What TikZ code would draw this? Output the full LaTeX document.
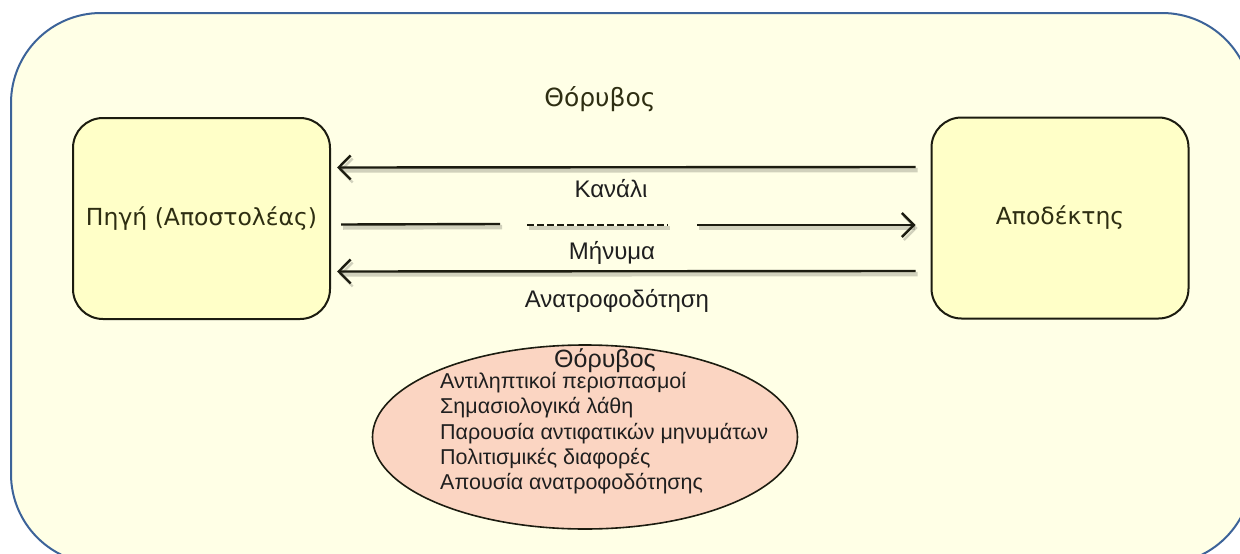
\documentclass[tikz,border=0pt]{standalone}
\usepackage{fontspec}
\setmainfont{Liberation Sans}
\newfontfamily\boxfont{DejaVu Sans}
\usetikzlibrary{arrows.meta,shapes.geometric}
\definecolor{panelfill}{HTML}{FFFFE6}
\definecolor{panelline}{HTML}{3C6399}
\definecolor{boxfill}{HTML}{FFFFC8}
\definecolor{boxtext}{HTML}{2E2E12}
\definecolor{noisefill}{HTML}{FBD5C2}
\definecolor{inkline}{HTML}{1C1C10}
\tikzset{
  panel/.style={draw=panelline, line width=2pt, fill=panelfill, rounded corners=90pt},
  party/.style={draw=inkline, line width=2pt, fill=boxfill, rounded corners=30pt,
    minimum width=257pt, minimum height=201pt, inner sep=0pt,
    font=\boxfont\fontsize{23.5}{28}\selectfont, text=boxtext},
  shade/.style={preaction={draw=black, opacity=0.18, line width=4.5pt,
    transform canvas={shift={(2pt,-3pt)}}}},
  link/.style={draw=inkline, line width=2.4pt, shade},
  tip/.style={-{Straight Barb[length=12pt,width=24pt,line width=2.4pt]}},
  caption/.style={font=\fontsize{24}{28}\selectfont, text=black!88, inner sep=0pt},
  noise/.style={ellipse, draw=inkline, line width=1.6pt, fill=noisefill,
    minimum width=425pt, minimum height=184pt, inner sep=0pt},
}
\begin{document}
\begin{tikzpicture}[x=1pt,y=-1pt]
\useasboundingbox (0,0) rectangle (1240,554);
\clip (0,0) rectangle (1240,554);
% outer panel
\path[panel] (11,13) rectangle (1252,564);

% the two parties
\node[party] (src) at (201.5,218.5) {Πηγή (Αποστολέας)};
\node[party] (dst) at (1060,218) {Αποδέκτης};

% channel arrow (top)
\draw[link, tip] ([shift={(-15,-51)}]dst.west) -- ([shift={(6,-51)}]src.east);
% message arrow, broken in the middle
\coordinate (m1) at (500,224);
\coordinate (m2) at (527,225);
\coordinate (m3) at (668,225);
\coordinate (m4) at (697,225);
\draw[link] ([shift={(10,6)}]src.east) -- (m1);
\draw[draw=inkline, line width=1.6pt, dash pattern=on 7pt off 3pt, shade] (m2) -- (m3);
\draw[link, tip] (m4) -- ([shift={(-15,7)}]dst.west);
% feedback arrow (bottom)
\draw[link, tip] ([shift={(-15,53)}]dst.west) -- ([shift={(6,53)}]src.east);

% labels
\node[font=\boxfont\fontsize{25}{30}\selectfont, text=boxtext, inner sep=0pt] (noiseTop) at (600,99) {Θόρυβος};
\node[caption] (chan) at (611,189) {Κανάλι};
\node[caption] (msg) at (612,253) {Μήνυμα};
\node[caption] (fb) at (617,301) {Ανατροφοδότηση};

% noise ellipse
\node[noise] (noiseEll) at (585,437) {};
\node[caption, font=\fontsize{25}{30}\selectfont] (noiseHead) at (605,361) {Θόρυβος};
\node[anchor=north west, inner sep=0pt, align=left, text=black!88,
  font=\fontsize{21.5}{25.3}\selectfont] (noiseList) at (440,372)
  {Αντιληπτικοί περισπασμοί\\
   Σημασιολογικά λάθη\\
   Παρουσία αντιφατικών μηνυμάτων\\
   Πολιτισμικές διαφορές\\
   Απουσία ανατροφοδότησης};
\end{tikzpicture}
\end{document}
